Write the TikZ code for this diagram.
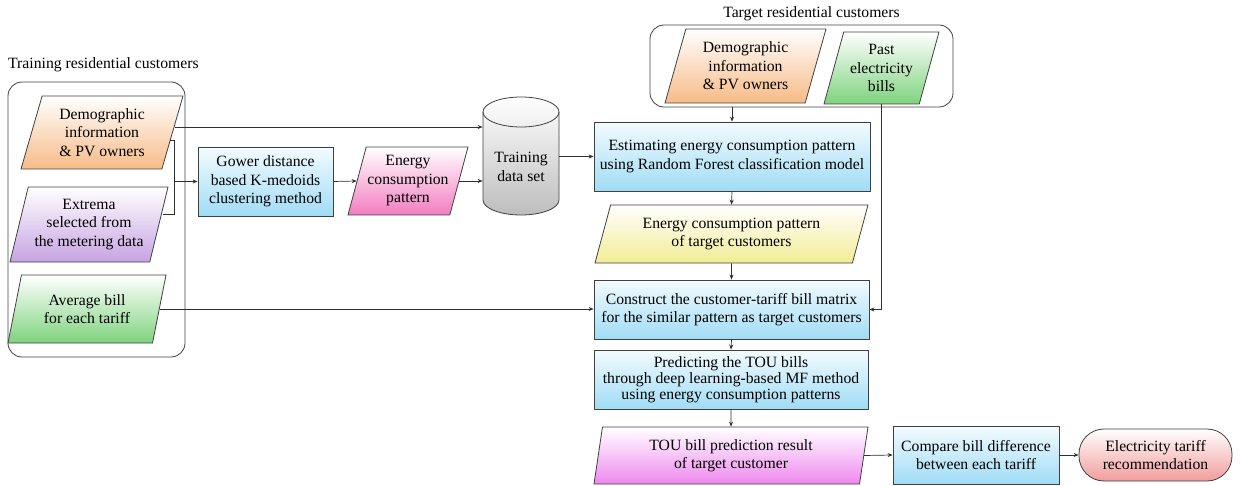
\documentclass[tikz,border=0pt]{standalone}
\usepackage{fontspec}
\setmainfont{Liberation Serif}
\usetikzlibrary{shapes.geometric,arrows.meta,calc}
\definecolor{bord}{HTML}{404040}
\definecolor{linec}{HTML}{303030}
\definecolor{orgB}{HTML}{F7BB87}
\definecolor{purB}{HTML}{C6A3E2}
\definecolor{grnB}{HTML}{7ED37E}
\definecolor{bluT}{HTML}{F3FBFF}
\definecolor{bluB}{HTML}{A0DCF5}
\definecolor{pnkB}{HTML}{F27DC0}
\definecolor{yelB}{HTML}{F2EC94}
\definecolor{magB}{HTML}{EE88EE}
\definecolor{gryB}{HTML}{BDBDBD}
\definecolor{redB}{HTML}{F29C9C}
\newcommand{\fsmain}{\fontsize{15.7}{18.5}\selectfont}
\newcommand{\fstight}{\fontsize{15.7}{16.2}\selectfont}
\begin{document}
\begin{tikzpicture}[x=1pt,y=-1pt,
  shp/.style={draw=bord, line width=0.8pt, align=center, inner sep=0pt, font=\fsmain},
  para/.style 2 args={shp, trapezium, trapezium left angle=#1, trapezium right angle=#2, trapezium stretches body},
  rectbox/.style={shp, rectangle},
  groupbox/.style={draw=bord, line width=0.8pt, rounded corners=14pt, rectangle, inner sep=0pt},
  title/.style={font=\fsmain, inner sep=0pt},
  orangefill/.style={top color=white, bottom color=orgB},
  purplefill/.style={top color=white, bottom color=purB},
  greenfill/.style={top color=white, bottom color=grnB},
  bluefill/.style={top color=bluT, bottom color=bluB},
  pinkfill/.style={top color=white, bottom color=pnkB},
  yellowfill/.style={top color=white, bottom color=yelB},
  magentafill/.style={top color=white, bottom color=magB},
  redfill/.style={top color=white, bottom color=redB},
  arr/.style={draw=linec, line width=0.7pt, -{Stealth[length=5pt,width=4pt]}},
  ln/.style={draw=linec, line width=0.7pt}
]
\useasboundingbox (0,0) rectangle (1241,486);

% group boxes and titles
\node[groupbox, minimum width=177pt, minimum height=275pt] (trainbox) at (96.5,219.5) {};
\node[title, anchor=west] (traint) at (8,65) {Training residential customers};
\node[groupbox, minimum width=303pt, minimum height=82pt] (tgtbox) at (801.5,66) {};
\node[title] (tgtt) at (811.5,14) {Target residential customers};

% training inputs
\node[para={66.3}{113.7}, orangefill, minimum width=162pt, minimum height=73pt] (demoL) at (102,132.5) {Demographic\\information\\\& PV owners};
\node[para={70.2}{109.8}, purplefill, minimum width=158pt, minimum height=75pt] (extrema) at (89,224.5) {Extrema\\selected from\\the metering data};
\node[para={65.5}{114.5}, greenfill, minimum width=158pt, minimum height=68pt] (average) at (87,309) {Average bill\\for each tariff};

% clustering
\node[rectbox, bluefill, minimum width=135pt, minimum height=69pt] (gower) at (265.5,181.5) {Gower distance\\based K-medoids\\clustering method};
\node[para={70.2}{109.8}, pinkfill, minimum width=120pt, minimum height=68pt] (energyP) at (408,181) {Energy\\consumption\\pattern};

% cylinder
\path[draw=bord, line width=0.8pt, top color=white, bottom color=gryB]
  (483,112) -- (483,200)
  .. controls (483,208.3) and (500,215) .. (521,215)
  .. controls (542,215) and (559,208.3) .. (559,200)
  -- (559,112)
  .. controls (559,103.7) and (542,97) .. (521,97)
  .. controls (500,97) and (483,103.7) .. (483,112) -- cycle;
\path[draw=bord, line width=0.8pt]
  (483,112) .. controls (483,120.3) and (500,127) .. (521,127)
  .. controls (542,127) and (559,120.3) .. (559,112);
\node[shp, draw=none, minimum width=76pt] (cyl) at (521,167) {Training\\data set};

% target inputs
\node[para={66.6}{113.4}, orangefill, minimum width=161pt, minimum height=74pt] (demoT) at (745.5,66) {Demographic\\information\\\& PV owners};
\node[para={67.4}{112.6}, greenfill, minimum width=115pt, minimum height=72pt] (pastB) at (881.5,68) {Past\\electricity\\bills};

% main column
\node[rectbox, bluefill, minimum width=276pt, minimum height=69pt] (estim) at (732,156.5) {Estimating energy consumption pattern\\using Random Forest classification model};
\node[para={64.2}{115.8}, yellowfill, minimum width=273pt, minimum height=58pt] (energyT) at (731.5,234) {Energy consumption pattern\\of target customers};
\node[rectbox, bluefill, minimum width=275pt, minimum height=59pt] (constr) at (731.5,309.5) {Construct the customer-tariff bill matrix\\for the similar pattern as target customers};
\node[rectbox, bluefill, minimum width=274pt, minimum height=59pt, font=\fstight] (predict) at (731,379.5) {Predicting the TOU bills\\through deep learning-based MF method\\using energy consumption patterns};
\node[para={75.5}{104.5}, magentafill, minimum width=274pt, minimum height=57pt] (tou) at (731,455.5) {TOU bill prediction result\\of target customer};
\node[rectbox, bluefill, minimum width=166pt, minimum height=58pt] (compare) at (976,455) {Compare bill difference\\between each tariff};
\node[rectbox, redfill, rounded corners=25pt, minimum width=153pt, minimum height=52pt] (elec) at (1155.5,455) {Electricity tariff\\recommendation};

% connectors
\coordinate (dlA) at ($(demoL.east)+(2.4,-5.5)$);
\coordinate (dlB) at ($(demoL.east)+(-3.3,7.5)$);
\coordinate (exA) at ($(extrema.east)+(3.8,-10.5)$);
\coordinate (brk) at (174,181.5);
\draw[arr] (dlA) -- (cyl.west |- dlA);
\draw[ln] (dlB) -- (brk |- dlB) -- (brk |- exA) -- (exA);
\draw[arr] (brk) -- (gower.west);
\draw[arr] (gower.east) -- (energyP.west);
\draw[arr] (energyP.east) -- (cyl.west |- energyP.east);
\draw[arr] (cyl.east |- estim.west) -- (estim.west);
\draw[arr] (average.east) -- (constr.west |- average.east);
\draw[arr] (estim.north |- tgtbox.south) -- (estim.north);
\draw[arr] (estim.south) -- (energyT.north);
\draw[arr] (energyT.south) -- (constr.north);
\draw[arr] (constr.south) -- (predict.north);
\draw[arr] (predict.south) -- (tou.north);
\draw[arr] (pastB.center |- pastB.bottom left corner) -- (pastB.center |- constr.east) -- (constr.east);
\draw[arr] (tou.east) -- (compare.west);
\draw[arr] (compare.east) -- (elec.west);
\end{tikzpicture}
\end{document}
